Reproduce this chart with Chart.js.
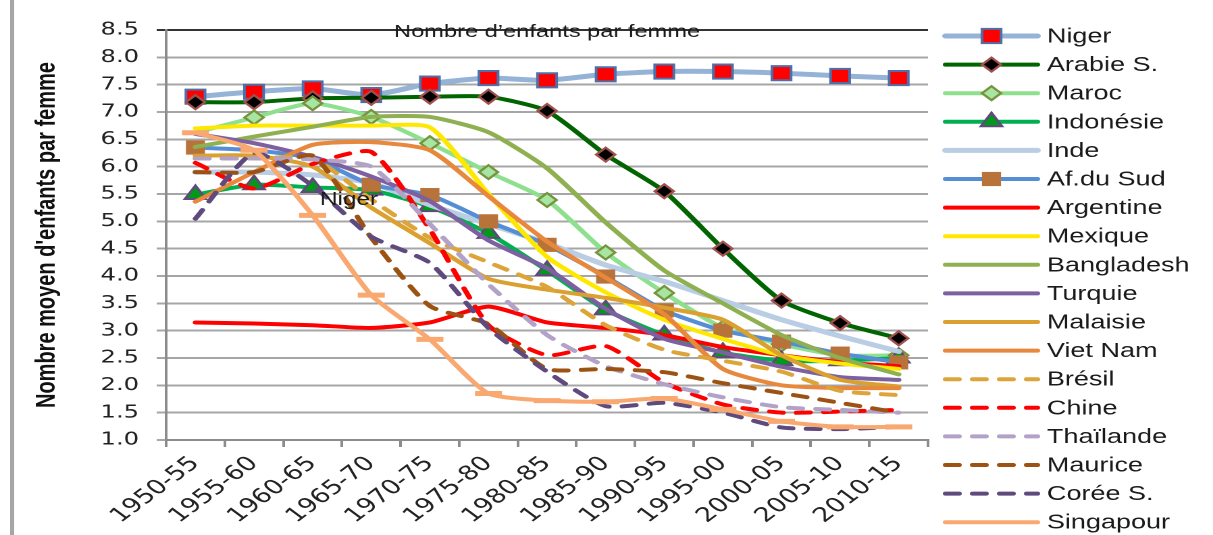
<!DOCTYPE html>
<html>
<head>
<meta charset="utf-8">
<script src="https://cdn.jsdelivr.net/npm/chart.js@4.4.1/dist/chart.umd.min.js"></script>
<style>
    html, body { margin: 0; padding: 0; background: #fff; overflow: hidden; }
    /* the original picture is stretched sideways, so the chart is drawn narrow and widened */
    #wrap { position: absolute; left: 0; top: 0; width: 898px; height: 535px; transform: scaleX(1.3508); transform-origin: 0 0; }
</style>
</head>
<body>
<div id="wrap"><canvas id="fertChart"></canvas></div>
<script>
// categories (5-year periods)
const periods = ['1950-55', '1955-60', '1960-65', '1965-70', '1970-75', '1975-80', '1980-85',
                 '1985-90', '1990-95', '1995-00', '2000-05', '2005-10', '2010-15'];
const yTicks = [1.0, 1.5, 2.0, 2.5, 3.0, 3.5, 4.0, 4.5, 5.0, 5.5, 6.0, 6.5, 7.0, 7.5, 8.0, 8.5];

const chartTitle = 'Nombre d’enfants par femme';
const yTitle = "Nombre moyen d'enfants par femme";

// fertility per country
const niger      = [7.28, 7.37, 7.43, 7.31, 7.52, 7.62, 7.58, 7.69, 7.74, 7.74, 7.71, 7.66, 7.62];
const arabie     = [7.18, 7.18, 7.25, 7.26, 7.28, 7.28, 7.02, 6.22, 5.55, 4.50, 3.55, 3.14, 2.86];
const maroc      = [6.62, 6.90, 7.16, 6.91, 6.43, 5.90, 5.39, 4.43, 3.69, 3.05, 2.75, 2.55, 2.55];
const indonesie  = [5.49, 5.67, 5.62, 5.57, 5.27, 4.78, 4.10, 3.38, 2.92, 2.60, 2.45, 2.45, 2.50];
const inde       = [5.90, 5.90, 5.85, 5.70, 5.30, 4.95, 4.60, 4.20, 3.90, 3.55, 3.20, 2.90, 2.62];
const afSud      = [6.35, 6.30, 6.15, 5.67, 5.48, 5.00, 4.57, 3.99, 3.37, 3.00, 2.80, 2.58, 2.42];
const argentine  = [3.15, 3.13, 3.10, 3.05, 3.15, 3.44, 3.15, 3.05, 2.92, 2.70, 2.55, 2.42, 2.35];
const mexique    = [6.70, 6.75, 6.75, 6.75, 6.72, 5.50, 4.35, 3.70, 3.20, 2.85, 2.55, 2.40, 2.30];
const bangladesh = [6.36, 6.55, 6.73, 6.91, 6.91, 6.63, 5.97, 4.98, 4.10, 3.50, 2.92, 2.50, 2.20];
const turquie    = [6.60, 6.43, 6.18, 5.82, 5.37, 4.65, 4.14, 3.40, 2.85, 2.60, 2.34, 2.15, 2.10];
const malaisie   = [6.20, 6.20, 6.00, 5.25, 4.60, 3.95, 3.75, 3.60, 3.42, 3.20, 2.55, 2.10, 1.98];
const vietnam    = [5.36, 5.90, 6.40, 6.45, 6.30, 5.46, 4.63, 3.97, 3.30, 2.30, 2.00, 1.95, 1.95];
const bresil     = [6.15, 6.15, 6.15, 5.40, 4.70, 4.25, 3.80, 3.10, 2.65, 2.45, 2.25, 1.90, 1.82];
const chine      = [6.07, 5.60, 6.05, 6.27, 4.85, 3.10, 2.55, 2.72, 2.05, 1.65, 1.50, 1.52, 1.55];
const thailande  = [6.15, 6.15, 6.13, 6.00, 4.95, 3.85, 2.92, 2.35, 2.02, 1.78, 1.60, 1.55, 1.50];
const maurice    = [5.90, 5.90, 6.20, 4.70, 3.45, 3.12, 2.30, 2.30, 2.24, 2.04, 1.86, 1.68, 1.50];
const coree      = [5.05, 6.25, 5.65, 4.72, 4.24, 3.05, 2.25, 1.62, 1.68, 1.50, 1.23, 1.20, 1.24];
const singapour  = [6.62, 6.30, 5.11, 3.65, 2.84, 1.85, 1.72, 1.70, 1.76, 1.56, 1.34, 1.24, 1.24];

const DASH = [10, 10];
const FONT = '"Liberation Sans", Arial, sans-serif';

function line(label, data, color, extra) {
    return Object.assign({
        label: label,
        data: data,
        borderColor: color,
        backgroundColor: color,
        borderWidth: 4,
        borderCapStyle: 'round',
        borderJoinStyle: 'round',
        pointRadius: 0,
        pointHoverRadius: 0,
        tension: 0.2,
        fill: false
    }, extra || {});
}

// markers that cannot be seen in the picture are left out
const hideAt = (n, hidden, r) => Array.from({ length: n }, (_, i) => hidden.includes(i) ? 0 : r);

const datasets = [
    line('Niger', niger, '#95B3D7', { borderWidth: 5, pointStyle: 'rect', pointRadius: 10,
        pointBackgroundColor: '#FF0000', pointBorderColor: '#4F6FA8', pointBorderWidth: 2 }),
    line('Arabie S.', arabie, '#006400', { pointStyle: 'rectRot', pointRadius: 7,
        pointBackgroundColor: '#000000', pointBorderColor: '#A0504E', pointBorderWidth: 2 }),
    line('Maroc', maroc, '#8EE08E', { pointStyle: 'rectRot', pointRadius: hideAt(periods.length, [0], 7),
        pointBackgroundColor: '#A6E6A2', pointBorderColor: '#77933C', pointBorderWidth: 2 }),
    line('Indonésie', indonesie, '#00B050', { pointStyle: 'triangle', pointRadius: 9,
        pointBackgroundColor: '#009A1A', pointBorderColor: '#604A7B', pointBorderWidth: 2 }),
    line('Inde', inde, '#B9CDE5', { borderWidth: 5 }),
    line('Af.du Sud', afSud, '#558ED5', { pointStyle: 'rect', pointRadius: hideAt(periods.length, [1, 2], 10),
        pointBackgroundColor: '#B8733A', pointBorderColor: '#B8733A', pointBorderWidth: 0 }),
    line('Argentine', argentine, '#FF0000'),
    line('Mexique', mexique, '#FFE800'),
    line('Bangladesh', bangladesh, '#8FB050'),
    line('Turquie', turquie, '#7D60A0'),
    line('Malaisie', malaisie, '#DAA030'),
    line('Viet Nam', vietnam, '#E8883C'),
    line('Brésil', bresil, '#DDA43A', { borderDash: DASH }),
    line('Chine', chine, '#FF0000', { borderDash: DASH }),
    line('Thaïlande', thailande, '#B3A2C7', { borderDash: DASH }),
    line('Maurice', maurice, '#9C5212', { borderDash: DASH }),
    line('Corée S.', coree, '#5F4A7E', { borderDash: DASH }),
    line('Singapour', singapour, '#F9A870', { pointStyle: 'line', pointRadius: 10,
        pointBackgroundColor: '#F9A870', pointBorderColor: '#F9A870', pointBorderWidth: 5 })
];
// like the spreadsheet: later series are painted over earlier ones
datasets.forEach((ds, i) => { ds.order = datasets.length - i; });

// title over the top gridline, stray "Niger" label, legend and left frame
const extras = {
    id: 'extras',
    afterDraw(chart) {
        const ctx = chart.ctx;
        const area = chart.chartArea;
        const xs = chart.scales.x;
        const ys = chart.scales.y;
        ctx.save();

        ctx.strokeStyle = '#A6A6A6';
        ctx.lineWidth = 3;
        ctx.beginPath();
        ctx.moveTo(9, 0);
        ctx.lineTo(9, chart.height);
        ctx.stroke();

        ctx.fillStyle = '#1a1a1a';
        ctx.font = '17.5px ' + FONT;
        ctx.textAlign = 'center';
        ctx.textBaseline = 'alphabetic';
        ctx.fillText(chartTitle, (area.left + area.right) / 2, area.top + 7);

        ctx.font = '18px ' + FONT;
        ctx.textBaseline = 'middle';
        ctx.fillText('Niger', xs.getPixelForValue(2.62), ys.getPixelForValue(5.39));

        const top = area.top + 6;
        const step = 28.6;
        const x0 = area.right + 13, x1 = area.right + 81, mid = (x0 + x1) / 2, tx = area.right + 88;
        chart.data.datasets.forEach((ds, i) => {
            const y = top + i * step;
            const r = Array.isArray(ds.pointRadius) ? Math.max(...ds.pointRadius) : ds.pointRadius;
            ctx.save();
            ctx.strokeStyle = ds.borderColor;
            ctx.lineWidth = ds.borderWidth;
            ctx.lineCap = 'round';
            ctx.setLineDash(ds.borderDash || []);
            ctx.beginPath();
            ctx.moveTo(x0, y);
            ctx.lineTo(x1, y);
            ctx.stroke();
            ctx.setLineDash([]);
            if (r > 0 && ds.pointStyle !== 'line') {
                ctx.fillStyle = ds.pointBackgroundColor;
                ctx.strokeStyle = ds.pointBorderColor;
                ctx.lineWidth = ds.pointBorderWidth;
                Chart.helpers.drawPoint(ctx, {
                    pointStyle: ds.pointStyle, radius: r,
                    borderWidth: ds.pointBorderWidth, rotation: 0
                }, mid, y);
            }
            ctx.fillStyle = '#1a1a1a';
            ctx.font = '20px ' + FONT;
            ctx.textAlign = 'left';
            ctx.textBaseline = 'middle';
            ctx.fillText(ds.label, tx, y + 1);
            ctx.restore();
        });
        ctx.restore();
    }
};

const ctx = document.getElementById('fertChart').getContext('2d');
new Chart(ctx, {
    type: 'line',
    data: { labels: periods, datasets: datasets },
    plugins: [extras],
    options: {
        responsive: true,
        maintainAspectRatio: false,
        animation: false,
        devicePixelRatio: 2,
        layout: { padding: { left: 10, top: 30, right: 211, bottom: 0 } },
        plugins: {
            legend: { display: false },
            title: { display: false },
            tooltip: { enabled: false }
        },
        scales: {
            x: {
                type: 'category',
                offset: true,
                afterFit: scale => { scale.height = 95; },
                grid: { offset: true, drawOnChartArea: false, drawTicks: true, tickLength: 7,
                        color: '#8C8C8C', lineWidth: 2 },
                border: { color: '#8C8C8C', width: 2 },
                ticks: { autoSkip: false, minRotation: 45, maxRotation: 45, padding: 5,
                         color: '#222', font: { family: '"DejaVu Sans", sans-serif', size: 20 } }
            },
            y: {
                min: yTicks[0],
                max: yTicks[yTicks.length - 1],
                afterFit: scale => { scale.width = 113; },
                afterBuildTicks: scale => { scale.ticks = yTicks.map(v => ({ value: v })); },
                grid: {
                    color: c => (c.tick && c.tick.value === 8.5) ? '#333333' : '#A6A6A6',
                    lineWidth: 2,
                    tickLength: 7
                },
                border: { color: '#8C8C8C', width: 2 },
                ticks: { padding: 13, color: '#222', callback: v => Number(v).toFixed(1),
                         font: { family: '"DejaVu Sans", sans-serif', size: 18 } },
                title: { display: true, text: yTitle, color: '#111',
                         padding: { top: 13, bottom: 0 },
                         font: { family: FONT, size: 20, weight: 'bold' } }
            }
        }
    }
});
</script>
</body>
</html>
